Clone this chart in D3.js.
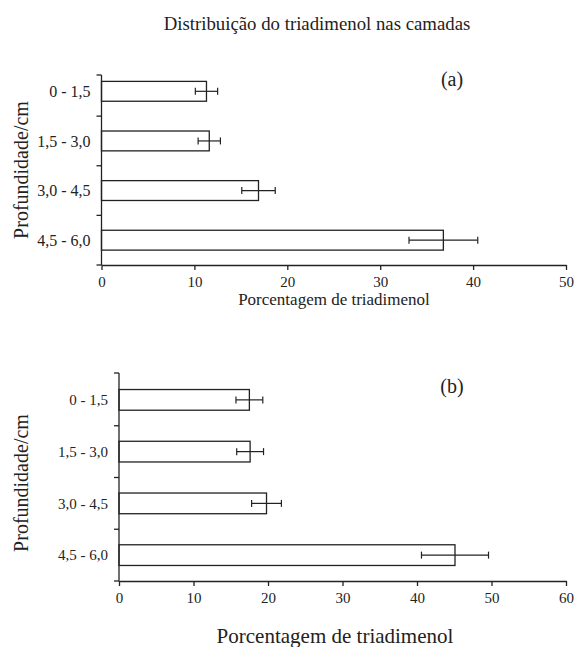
<!DOCTYPE html>
<html lang="en">
<head>
    <meta charset="UTF-8">
    <title>Distribuição do triadimenol</title>
    <style>
        body { margin: 0; background: #fff; }
    </style>
</head>
<body>
<script src="https://cdn.jsdelivr.net/npm/d3@7/dist/d3.min.js"></script>
<script>

    var camadas = ["0 - 1,5", "1,5 - 3,0", "3,0 - 4,5", "4,5 - 6,0"];

    // painel (a)
    var valoresA = [11.3, 11.6, 16.9, 36.8];
    var errosA   = [1.2, 1.2, 1.8, 3.7];
    var ticksA   = [0, 10, 20, 30, 40, 50];

    // painel (b)
    var valoresB = [17.5, 17.6, 19.8, 45.1];
    var errosB   = [1.8, 1.8, 2.0, 4.5];
    var ticksB   = [0, 10, 20, 30, 40, 50, 60];

    var FONT = "'Liberation Serif'";
    var INK = "#222";

    var width = 576, height = 647;
    var svg = d3.select("body").append("svg")
        .attr("width", width)
        .attr("height", height);

    svg.append("text")
        .attr("x", 317)
        .attr("y", 30)
        .attr("text-anchor", "middle")
        .style("font-family", FONT)
        .style("font-size", "18.8px")
        .style("fill", INK)
        .text("Distribuição do triadimenol nas camadas");

    function drawPanel(cfg){
        var g = svg.append("g");

        var x = d3.scaleLinear()
            .domain([0, d3.max(cfg.ticks)])
            .range([cfg.left, 566]);

        var y = d3.scaleBand()
            .domain(camadas)
            .range([cfg.top, cfg.bottom])
            .paddingInner(0.6)
            .paddingOuter(0.3);

        var data = camadas.map(function(c, i){
            return { camada: c, v: cfg.valores[i], e: cfg.erros[i] };
        });

        // bars
        g.selectAll("rect.bar")
            .data(data)
            .enter()
            .append("rect")
            .attr("class", "bar")
            .attr("x", x(0))
            .attr("y", function(d){ return y(d.camada); })
            .attr("width", function(d){ return x(d.v) - x(0); })
            .attr("height", y.bandwidth())
            .style("fill", "#fff")
            .style("stroke", INK)
            .style("stroke-width", 1.3);

        // error bars
        var capH = 3.5;
        var eb = g.selectAll("g.err")
            .data(data)
            .enter()
            .append("g")
            .attr("class", "err")
            .style("stroke", INK)
            .style("stroke-width", 1.2);

        eb.append("line")
            .attr("x1", function(d){ return x(d.v - d.e); })
            .attr("x2", function(d){ return x(d.v + d.e); })
            .attr("y1", function(d){ return y(d.camada) + y.bandwidth()/2; })
            .attr("y2", function(d){ return y(d.camada) + y.bandwidth()/2; });

        [-1, 1].forEach(function(s){
            eb.append("line")
                .attr("x1", function(d){ return x(d.v + s*d.e); })
                .attr("x2", function(d){ return x(d.v + s*d.e); })
                .attr("y1", function(d){ return y(d.camada) + y.bandwidth()/2 - capH; })
                .attr("y2", function(d){ return y(d.camada) + y.bandwidth()/2 + capH; });
        });

        // x axis
        var xAxis = d3.axisBottom(x)
            .tickValues(cfg.ticks)
            .tickSize(5)
            .tickSizeOuter(0);

        var gx = g.append("g")
            .attr("transform", "translate(0," + cfg.bottom + ")")
            .call(xAxis);
        gx.attr("font-family", null);
        gx.select(".domain").style("stroke", INK).style("stroke-width", 1.3);
        gx.selectAll(".tick line").style("stroke", INK).style("stroke-width", 1.3);
        gx.selectAll(".tick text")
            .attr("y", 11)
            .style("font-size", "15px")
            .style("font-family", FONT)
            .style("fill", INK);

        // y axis : ticks on band boundaries (top one at the axis top)
        var step = y.step();
        var bounds = camadas.map(function(c){ return y(c) - (step - y.bandwidth())/2; });
        bounds[0] = cfg.axisTop;
        bounds.push(cfg.bottom);

        g.append("line")
            .attr("x1", x(0)).attr("x2", x(0))
            .attr("y1", cfg.axisTop).attr("y2", cfg.bottom)
            .style("stroke", INK).style("stroke-width", 1.3);

        g.selectAll("line.ytick")
            .data(bounds)
            .enter()
            .append("line")
            .attr("class", "ytick")
            .attr("x1", x(0) - 5).attr("x2", x(0))
            .attr("y1", function(d){ return d; })
            .attr("y2", function(d){ return d; })
            .style("stroke", INK).style("stroke-width", 1.3);

        g.selectAll("text.ylab")
            .data(camadas)
            .enter()
            .append("text")
            .attr("class", "ylab")
            .attr("x", x(0) - 11)
            .attr("y", function(d){ return y(d) + y.bandwidth()/2; })
            .attr("dy", "0.35em")
            .attr("text-anchor", "end")
            .style("font-family", FONT)
            .style("font-size", cfg.labSize)
            .style("fill", INK)
            .text(function(d){ return d; });

        // titles
        g.append("text")
            .attr("x", cfg.xTitleX)
            .attr("y", cfg.xTitleY)
            .attr("text-anchor", "middle")
            .style("font-family", FONT)
            .style("font-size", cfg.xTitleSize)
            .style("fill", INK)
            .text("Porcentagem de triadimenol");

        g.append("text")
            .attr("transform", "translate(28," + cfg.yTitleY + ") rotate(-90)")
            .attr("text-anchor", "middle")
            .style("font-family", FONT)
            .style("font-size", "20px")
            .style("fill", INK)
            .text("Profundidade/cm");

        g.append("text")
            .attr("x", 452)
            .attr("y", cfg.labelY)
            .attr("text-anchor", "middle")
            .style("font-family", FONT)
            .style("font-size", "20px")
            .style("fill", INK)
            .text(cfg.label);
    }

    drawPanel({
        valores: valoresA, erros: errosA, ticks: ticksA,
        left: 101.5, top: 66.5, bottom: 265, axisTop: 75,
        labSize: "16px", xTitleSize: "17px", xTitleX: 334,
        xTitleY: 305, yTitleY: 170, labelY: 86, label: "(a)"
    });

    drawPanel({
        valores: valoresB, erros: errosB, ticks: ticksB,
        left: 119, top: 374, bottom: 581, axisTop: 373,
        labSize: "15px", xTitleSize: "21px", xTitleX: 335,
        xTitleY: 643, yTitleY: 483, labelY: 393, label: "(b)"
    });

</script>
</body>
</html>
